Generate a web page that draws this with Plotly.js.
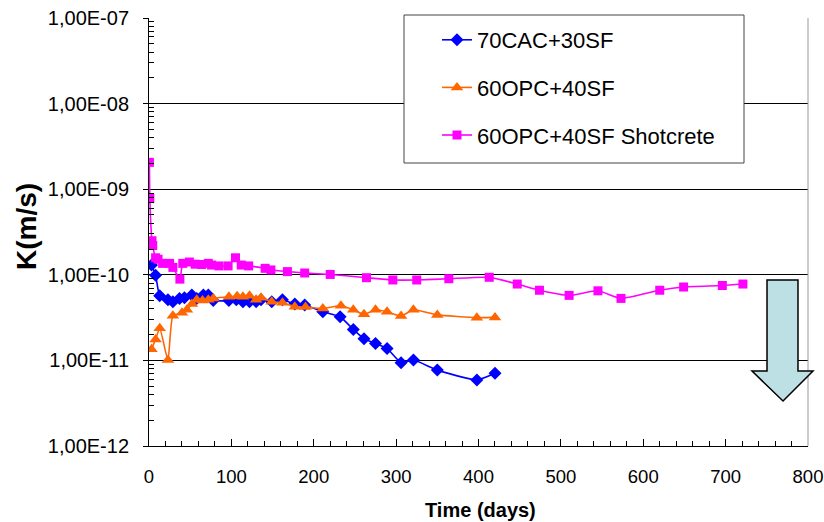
<!DOCTYPE html>
<html>
<head>
<meta charset="utf-8">
<script src="https://cdn.plot.ly/plotly-3.0.1.min.js"></script>
<style>html,body{margin:0;padding:0;background:#fff}#chart{width:824px;height:522px}</style>
</head>
<body>
<div id="chart"></div>
<script>
// ---- data ----
const seriesNames = ["70CAC+30SF", "60OPC+40SF", "60OPC+40SF Shotcrete"];

const cacDays = [3, 8, 13, 23, 29, 37, 43, 52, 58, 66, 72, 78, 97, 106, 114, 122, 130, 136, 149, 162, 177, 189, 211, 232, 248, 261, 275, 289, 306, 321, 350, 398, 420];
const cacK = [1.3e-10, 9.9e-11, 5.7e-11, 5.1e-11, 4.85e-11, 5.3e-11, 5.4e-11, 5.8e-11, 5.3e-11, 5.8e-11, 5.8e-11, 5.0e-11, 5.0e-11, 5.1e-11, 4.85e-11, 4.85e-11, 4.85e-11, 5.1e-11, 4.85e-11, 5.1e-11, 4.56e-11, 4.44e-11, 3.7e-11, 3.24e-11, 2.3e-11, 1.79e-11, 1.58e-11, 1.38e-11, 9.4e-12, 1.01e-11, 7.7e-12, 5.9e-12, 7.06e-12];

const opcDays = [3, 8, 13, 23, 29, 40, 46, 52, 58, 65, 72, 78, 97, 107, 114, 122, 130, 136, 149, 162, 177, 190, 211, 233, 248, 261, 275, 289, 306, 321, 350, 398, 420];
const opcK = [1.35e-11, 1.76e-11, 2.37e-11, 1.01e-11, 3.33e-11, 3.6e-11, 3.9e-11, 4.56e-11, 5.1e-11, 5.0e-11, 5.1e-11, 5.3e-11, 5.55e-11, 5.6e-11, 5.55e-11, 5.7e-11, 5.1e-11, 5.4e-11, 4.85e-11, 4.72e-11, 4.24e-11, 4.2e-11, 4.05e-11, 4.35e-11, 3.9e-11, 3.45e-11, 3.9e-11, 3.7e-11, 3.3e-11, 3.9e-11, 3.4e-11, 3.16e-11, 3.18e-11];

const shotDays = [0.5, 1, 3.6, 4.5, 8, 11, 16.5, 25, 29, 37.5, 41, 49, 56, 64, 72, 76, 85, 96, 105, 112, 121, 141, 148, 168, 189, 220, 264, 296, 325, 364, 413, 447, 474, 510, 545, 573, 620, 649, 696, 721];
const shotK = [2.06e-9, 7.8e-10, 2.5e-10, 2.2e-10, 1.58e-10, 1.52e-10, 1.36e-10, 1.36e-10, 1.22e-10, 8.9e-11, 1.36e-10, 1.41e-10, 1.33e-10, 1.32e-10, 1.36e-10, 1.30e-10, 1.27e-10, 1.27e-10, 1.58e-10, 1.30e-10, 1.27e-10, 1.19e-10, 1.14e-10, 1.09e-10, 1.05e-10, 1.01e-10, 9.25e-11, 8.7e-11, 8.7e-11, 9.0e-11, 9.35e-11, 7.8e-11, 6.6e-11, 5.75e-11, 6.5e-11, 5.3e-11, 6.6e-11, 7.2e-11, 7.5e-11, 7.8e-11];

const yTickVals = [1e-12, 1e-11, 1e-10, 1e-9, 1e-8, 1e-7];
const yTickText = ["1,00E-12", "1,00E-11", "1,00E-10", "1,00E-09", "1,00E-08", "1,00E-07"];
const xTitle = "Time (days)";
const yTitle = "K(m/s)";

// ---- chart ----
const FONT = "Liberation Sans, Arial, sans-serif";
const minorVals = [];
for (let e = -12; e < -7; e++) for (let k = 2; k <= 9; k++) minorVals.push(k * Math.pow(10, e));

function tr(x, y, name, color, symbol, size, grp) {
  return {
    x: x, y: y, name: name, type: "scatter", mode: "lines+markers",
    legendgroup: grp,
    line: {color: color, width: 1.6, shape: "spline", smoothing: 0.5},
    marker: {color: color, symbol: symbol, size: size}
  };
}
const data = [
  tr(cacDays, cacK, seriesNames[0], "#0000FF", "diamond", 10, "a"),
  tr(opcDays, opcK, seriesNames[1], "#FF6600", "triangle-up", 11, "b"),
  tr(shotDays, shotK, seriesNames[2], "#FF00FF", "square", 9, "c")
];

const L = 149, T = 18, W = 659, H = 428;
const px = v => (v - L) / W;
const py = v => (T + H - v) / H;

const arrow = [[767,280],[798,280],[798,371],[813,371],[783,401],[752,371],[767,371]];
const arrowPath = "M" + arrow.map(p => px(p[0]).toFixed(4) + "," + py(p[1]).toFixed(4)).join(" L") + " Z";

const layout = {
  width: 824, height: 522,
  margin: {l: L, r: 824 - L - W, t: T, b: 522 - T - H},
  paper_bgcolor: "#fff", plot_bgcolor: "#fff",
  font: {family: FONT, color: "#000"},
  showlegend: true,
  legend: {
    x: px(437), y: py(19), xanchor: "left", yanchor: "top",
    bgcolor: "rgba(0,0,0,0)", borderwidth: 0,
    font: {family: FONT, size: 22, color: "#000"},
    tracegroupgap: 16, traceorder: "grouped"
  },
  xaxis: {
    range: [0, 800], dtick: 100, tick0: 0,
    showgrid: false, zeroline: false,
    showline: true, linecolor: "#000", linewidth: 1,
    ticks: "inside", ticklen: 7, tickcolor: "#000",
    minor: {dtick: 20, ticks: "inside", ticklen: 5, tickcolor: "#000", showgrid: false},
    tickfont: {family: FONT, size: 18.5, color: "#000"},
    ticklabelstandoff: 14,
    ticklabeloverflow: "allow"
  },
  yaxis: {
    type: "log", range: [-12, -7],
    tickmode: "array", tickvals: yTickVals, ticktext: yTickText,
    showgrid: true, gridcolor: "#000", gridwidth: 1,
    zeroline: false,
    showline: true, linecolor: "#000", linewidth: 1,
    ticks: "outside", ticklen: 5, tickcolor: "#000",
    minor: {tickmode: "array", tickvals: minorVals, ticks: "inside", ticklen: 5, tickcolor: "#000", showgrid: false},
    tickfont: {family: FONT, size: 20, color: "#000"},
    ticklabelstandoff: 10
  },
  shapes: [
    {type: "line", xref: "paper", yref: "paper", x0: 1, x1: 1, y0: 0, y1: 1, line: {color: "#999", width: 1}},
    {type: "rect", xref: "paper", yref: "paper", x0: px(404), x1: px(744), y0: py(163), y1: py(15),
     fillcolor: "#fff", line: {color: "#444", width: 1}, layer: "above"},
    {type: "path", xref: "paper", yref: "paper", path: arrowPath,
     fillcolor: "#BDE0E4", line: {color: "#000", width: 1.5}, layer: "above"}
  ],
  annotations: [
    {text: "<b>" + xTitle + "</b>", xref: "paper", yref: "paper", x: px(480), y: py(510),
     xanchor: "center", yanchor: "middle", showarrow: false, font: {family: FONT, size: 20, color: "#000"}},
    {text: "<b>" + yTitle + "</b>", xref: "paper", yref: "paper", x: px(26), y: py(227),
     xanchor: "center", yanchor: "middle", textangle: -90, showarrow: false, font: {family: FONT, size: 28, color: "#000"}}
  ]
};

Plotly.newPlot("chart", data, layout, {displayModeBar: false, staticPlot: true});
</script>
</body>
</html>
